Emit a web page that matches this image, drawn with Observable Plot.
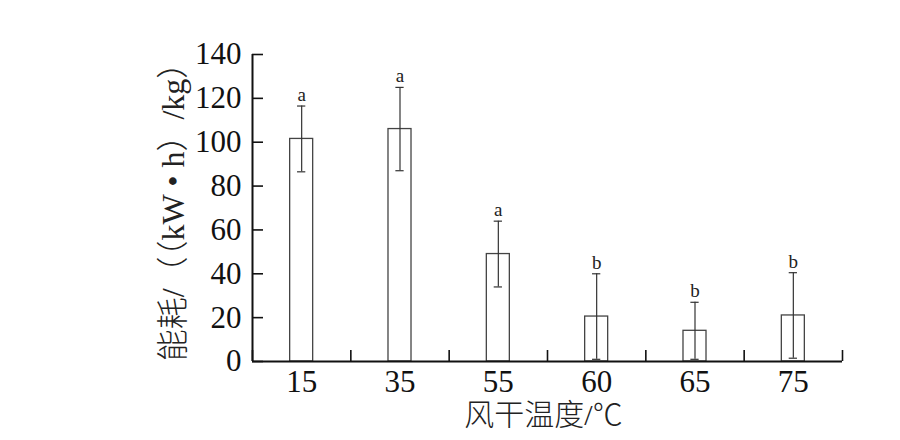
<!DOCTYPE html>
<html>
<head>
<meta charset="utf-8">
<script src="https://cdn.jsdelivr.net/npm/d3@7"></script>
<script src="https://cdn.jsdelivr.net/npm/@observablehq/plot@0.6"></script>
<style>
  html, body { margin: 0; padding: 0; background: white; }
</style>
</head>
<body>
<div id="chart"></div>
<script>
const categories = ["15", "35", "55", "60", "65", "75"];
const means = [101.5, 106, 49, 20.5, 14, 21];
const errors = [15, 19, 15, 19.5, 13, 19.5];
const letters = ["a", "a", "a", "b", "b", "b"];
const yTicks = [0, 20, 40, 60, 80, 100, 120, 140];
const xLabel = "风干温度/℃";
const yLabel = "能耗/（（kW • h）/kg）";

const data = categories.map((c, i) => ({i, cat: c, mean: means[i], err: errors[i], letter: letters[i]}));
const xDomain = [-0.5, categories.length - 0.5];
const boundaries = d3.range(categories.length + 1).map(i => i - 0.5);
const halfBar = 0.117;
const halfCap = 0.042;
const font = "'Liberation Serif', 'Noto Sans CJK SC', serif";

const chart = Plot.plot({
  width: 900,
  height: 440,
  marginLeft: 252,
  marginRight: 58,
  marginTop: 54,
  marginBottom: 79,
  style: {fontFamily: font, background: "white", color: "#111"},
  x: {type: "linear", domain: xDomain},
  y: {domain: [0, 140]},
  marks: [
    Plot.rectY(data, {x1: d => d.i - halfBar, x2: d => d.i + halfBar, y1: 0, y2: "mean", fill: "white", stroke: "#444", strokeWidth: 1.3}),
    Plot.ruleX(data, {x: "i", y1: d => d.mean - d.err, y2: d => d.mean + d.err, stroke: "#333", strokeWidth: 1.2}),
    Plot.ruleY(data, {y: d => d.mean + d.err, x1: d => d.i - halfCap, x2: d => d.i + halfCap, stroke: "#333", strokeWidth: 1.2}),
    Plot.ruleY(data, {y: d => d.mean - d.err, x1: d => d.i - halfCap, x2: d => d.i + halfCap, stroke: "#333", strokeWidth: 1.2}),
    Plot.text(data, {x: "i", y: d => d.mean + d.err, text: "letter", dy: -5, lineAnchor: "bottom", fontSize: 19, fill: "#222"}),
    Plot.axisY(yTicks, {tickSize: 0, tickPadding: 11, fontSize: 31, label: null}),
    Plot.axisY(yTicks, {tickSize: -11, tickFormat: () => "", label: null, strokeWidth: 1.6}),
    Plot.axisX(categories.map((c, i) => i), {tickSize: 0, tickPadding: 8, fontSize: 31, tickFormat: i => categories[i], label: null}),
    Plot.axisX(boundaries, {tickSize: -11, tickFormat: () => "", label: null, strokeWidth: 1.6}),
    Plot.text([yLabel], {frameAnchor: "left", dx: -79, dy: -4, rotate: -90, textAnchor: "middle", lineAnchor: "middle", fontSize: 32, fill: "#222", fontWeight: 300}),
    Plot.text([xLabel], {frameAnchor: "bottom", dx: -4, dy: 54, textAnchor: "middle", lineAnchor: "middle", fontSize: 30, fill: "#222", fontWeight: 300}),
    Plot.ruleX([xDomain[0]], {stroke: "#111", strokeWidth: 2}),
    Plot.ruleY([0], {stroke: "#111", strokeWidth: 2})
  ]
});
document.getElementById("chart").appendChild(chart);
</script>
</body>
</html>
